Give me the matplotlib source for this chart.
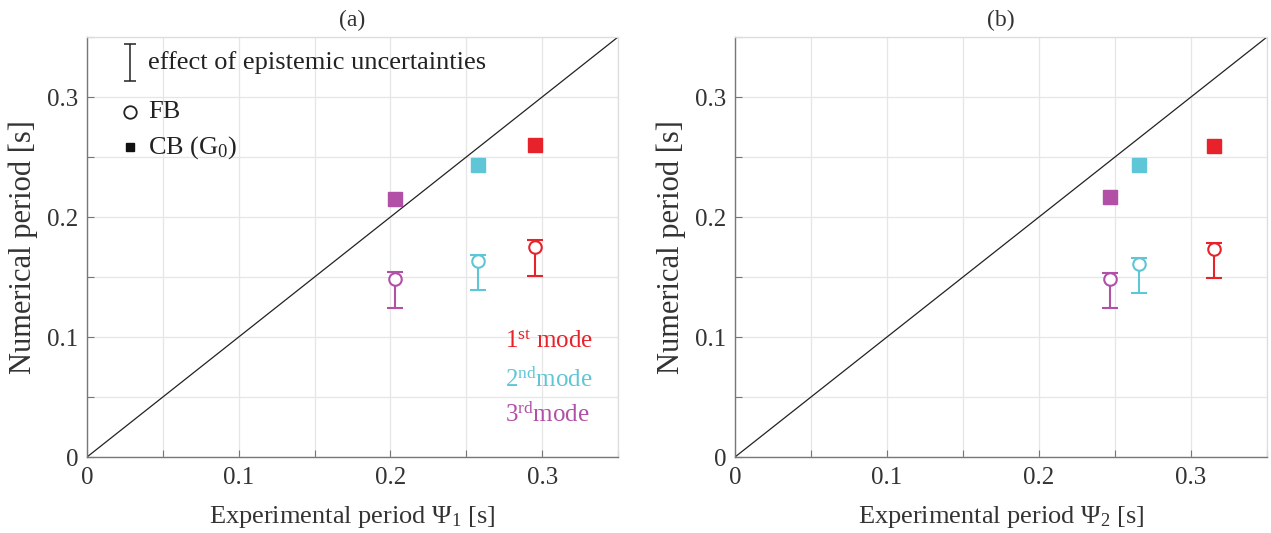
"""Numerical vs experimental periods, FB and CB models (panels a and b)."""

import matplotlib
matplotlib.use("Agg")
import matplotlib.pyplot as plt
from matplotlib.ticker import MultipleLocator

plt.rcParams.update({
    "font.family": ["Liberation Serif", "DejaVu Serif"],
    "mathtext.fontset": "custom",
    "mathtext.rm": "Liberation Serif",
    "mathtext.it": "Liberation Serif:italic",
    "mathtext.bf": "Liberation Serif:bold",
    "axes.unicode_minus": False,
})

# modes: 1st, 2nd, 3rd
mode_names = ["1$^{\\rm st}$ mode", "2$^{\\rm nd}$mode", "3$^{\\rm rd}$mode"]
mode_colors = ["#e8222b", "#5ec6d6", "#b24fa6"]

# panel (a): experimental period Psi_1
exp_a = [0.295, 0.258, 0.203]
cb_a = [0.260, 0.243, 0.215]
fb_a = [0.175, 0.163, 0.148]
fb_lo_a = [0.151, 0.139, 0.124]
fb_hi_a = [0.181, 0.168, 0.154]

# panel (b): experimental period Psi_2
exp_b = [0.315, 0.266, 0.247]
cb_b = [0.259, 0.243, 0.217]
fb_b = [0.173, 0.161, 0.148]
fb_lo_b = [0.149, 0.137, 0.124]
fb_hi_b = [0.178, 0.166, 0.153]

ticks = [0, 0.1, 0.2, 0.3]
tick_labels = ["0", "0.1", "0.2", "0.3"]
lim = 0.35

fig = plt.figure(figsize=(12.71, 5.33), dpi=100)
ax_a = fig.add_axes([87 / 1271, 1 - 457 / 533, 531 / 1271, 420 / 533])
ax_b = fig.add_axes([735 / 1271, 1 - 457 / 533, 532 / 1271, 420 / 533])


def draw_panel(ax, exp, cb, fb, lo, hi, title, xlabel):
    ax.set_xlim(0, lim)
    ax.set_ylim(0, lim)
    ax.plot([0, lim], [0, lim], color="#222222", lw=0.9, zorder=2)
    for i in range(len(exp)):
        c = mode_colors[i]
        ax.errorbar(exp[i], fb[i], yerr=[[fb[i] - lo[i]], [hi[i] - fb[i]]],
                    fmt="o", mfc="white", mec=c, ecolor=c, ms=9, mew=1.5,
                    elinewidth=1.5, capsize=6, capthick=1.5, zorder=4)
        ax.plot(exp[i], cb[i], "s", color=c, ms=10, zorder=4)
    ax.xaxis.set_minor_locator(MultipleLocator(0.05))
    ax.yaxis.set_minor_locator(MultipleLocator(0.05))
    ax.set_xticks(ticks)
    ax.set_xticklabels(tick_labels)
    ax.set_yticks(ticks)
    ax.set_yticklabels(tick_labels)
    ax.grid(True, which="both", color="#e6e6e6", lw=0.9, zorder=0)
    ax.tick_params(which="both", direction="in", length=5, width=0.8,
                   color="#777777", labelsize=18, labelcolor="#333333",
                   top=False, right=False)
    ax.tick_params(axis="x", pad=7)
    ax.tick_params(axis="y", pad=6)
    for side in ("left", "bottom"):
        ax.spines[side].set_color("#777777")
        ax.spines[side].set_linewidth(1.0)
    for side in ("top", "right"):
        ax.spines[side].set_color("#dddddd")
        ax.spines[side].set_linewidth(0.9)
    ax.set_xlabel(xlabel, fontsize=19, color="#333333", labelpad=11)
    ax.set_ylabel("Numerical period [s]", fontsize=22, color="#333333", labelpad=7)
    ax.set_title(title, fontsize=17, color="#333333", pad=8)


draw_panel(ax_a, exp_a, cb_a, fb_a, fb_lo_a, fb_hi_a, "(a)",
           "Experimental period \u03a8$_{\\rm 1}$ [s]")
draw_panel(ax_b, exp_b, cb_b, fb_b, fb_lo_b, fb_hi_b, "(b)",
           "Experimental period \u03a8$_{\\rm 2}$ [s]")

# legend drawn inside panel (a)
lx = 0.0285
ax_a.errorbar([lx], [0.329], yerr=[0.0155], fmt="none", ecolor="#222222",
              elinewidth=1.1, capsize=4, capthick=1.1, zorder=5)
ax_a.text(0.0405, 0.329, "effect of epistemic uncertainties", fontsize=19,
          va="center", ha="left", color="#222222")
ax_a.plot([lx], [0.2875], "o", mfc="white", mec="#222222", ms=9, mew=1.3, zorder=5)
ax_a.text(0.0405, 0.2875, "FB", fontsize=19, va="center", ha="left", color="#222222")
ax_a.plot([lx], [0.258], "s", color="#111111", ms=6, zorder=5)
ax_a.text(0.0405, 0.258, "CB (G$_{\\rm 0}$)", fontsize=19, va="center", ha="left",
          color="#222222")

mode_y = [0.0965, 0.0645, 0.0355]
for name, c, y in zip(mode_names, mode_colors, mode_y):
    ax_a.text(0.2755, y, name, fontsize=18, color=c, va="center", ha="left")

fig.savefig("out.png", dpi=100)
